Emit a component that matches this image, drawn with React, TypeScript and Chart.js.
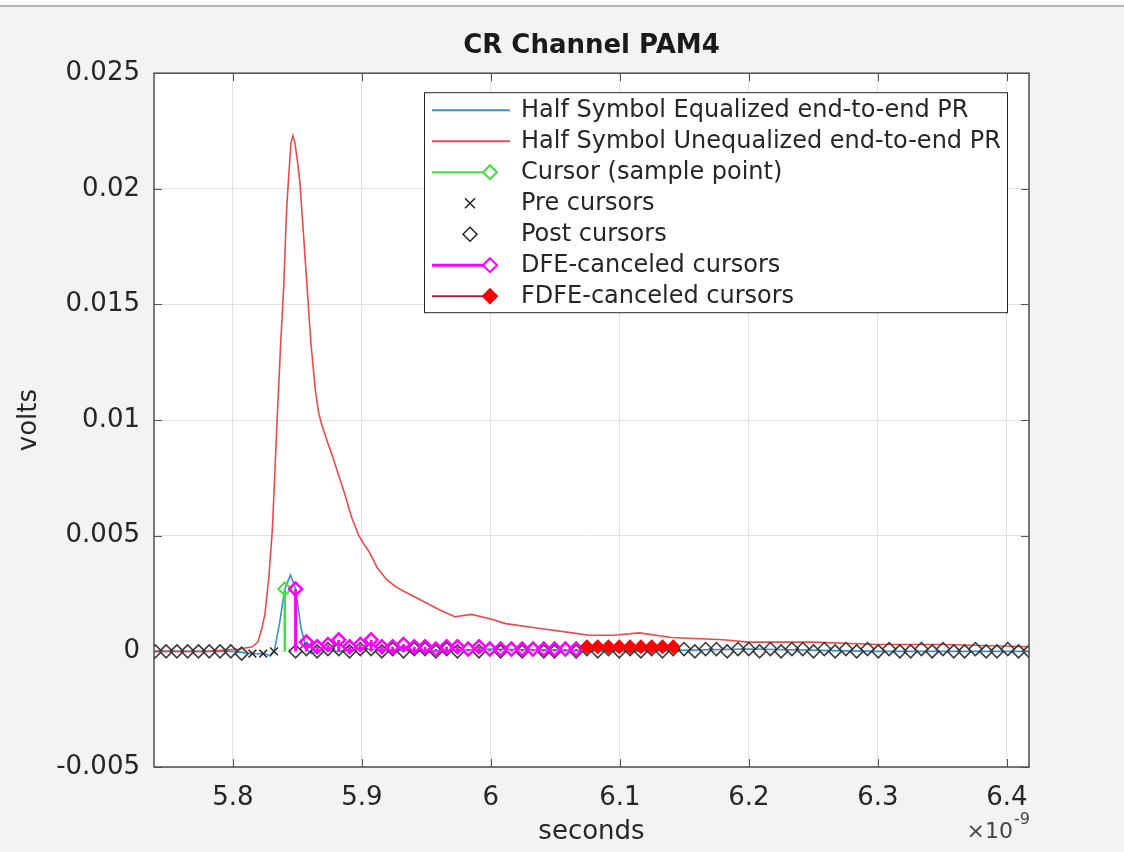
import React, { useEffect, useRef } from 'react';
import { Chart, registerables } from 'chart.js';

Chart.register(...registerables);

// ---------- data (time in units of 1e-9 s, values in volts) ----------
const X_MIN = 5.7388;
const X_MAX = 6.4172;
const Y_MIN = -0.005;
const Y_MAX = 0.025;

const xTicks = [5.8, 5.9, 6.0, 6.1, 6.2, 6.3, 6.4];
const xTickLabels = ['5.8', '5.9', '6', '6.1', '6.2', '6.3', '6.4'];
const yTicks = [-0.005, 0, 0.005, 0.01, 0.015, 0.02, 0.025];
const yTickLabels = ['-0.005', '0', '0.005', '0.01', '0.015', '0.02', '0.025'];

// Half Symbol Unequalized end-to-end PR (red)
const unequalizedTime = [
  5.7388, 5.78, 5.805, 5.815, 5.8193, 5.822, 5.8248, 5.828, 5.8306, 5.8341, 5.837, 5.8395,
  5.8415, 5.8433, 5.845, 5.8465, 5.848, 5.85, 5.8519, 5.8545, 5.8573, 5.8605, 5.8639, 5.8665,
  5.8689, 5.873, 5.8774, 5.882, 5.8867, 5.892, 5.8976, 5.902, 5.9057, 5.912, 5.9193, 5.926,
  5.9324, 5.943, 5.96, 5.972, 5.985, 6.0, 6.0115, 6.037, 6.063, 6.076, 6.095, 6.115, 6.14,
  6.18, 6.2, 6.25, 6.3, 6.35, 6.4172,
];
const unequalizedVolts = [
  0.0, 0.0, 0.0001, 0.0002, 0.0004, 0.0009, 0.0016, 0.0033, 0.0053, 0.0098, 0.0133, 0.0159,
  0.019, 0.0206, 0.022, 0.0223, 0.022, 0.0212, 0.0203, 0.0182, 0.0159, 0.0133, 0.0113, 0.0103,
  0.0098, 0.0091, 0.0084, 0.0076, 0.0068, 0.0058, 0.005, 0.0046, 0.0043, 0.0036, 0.0031, 0.0028,
  0.0026, 0.0023, 0.0018, 0.0015, 0.0016, 0.0014, 0.0012, 0.001, 0.0008, 0.0007, 0.0007, 0.0008,
  0.0006, 0.0005, 0.0004, 0.0004, 0.0003, 0.0003, 0.0002,
];

// Half Symbol Equalized end-to-end PR (blue)
const equalizedTime = [
  5.7388, 5.8, 5.815, 5.825, 5.829, 5.832, 5.8361, 5.8402, 5.8446, 5.8486, 5.8528, 5.857,
  5.861, 5.87, 5.88, 5.9, 5.95, 6.0, 6.1, 6.2, 6.3, 6.4172,
];
const equalizedVolts = [
  0.0, 0.0, -0.0001, -0.0001, -0.0002, 0.0, 0.0012, 0.0027, 0.0033, 0.0027, 0.001, 0.0001,
  -0.0001, 0.0001, 0.0, 0.0001, 0.0, 0.0001, 0.0, 0.0001, 0.0, 0.0,
];

// symbol-spaced samples
const CURSOR_TIME = 5.8402;
const SYMBOL_TIME = 0.008366;
const cursorVolts = 0.0027;
// samples k = -12 .. -4 (plotted with post-cursor marker)
const earlyVolts = [0.0, 0.0, 0.0, 0.0, 0.0, 0.0, 0.0, 0.0, -0.0001];
// k = -3 .. -1
const preCursorVolts = [-0.0001, -0.0001, 0.0];
// k = 1 .. 27
const dfeVolts = [
  0.0027, 0.0004, 0.0002, 0.0003, 0.0005, 0.0002, 0.0003, 0.0005, 0.0002, 0.0002, 0.0003,
  0.0002, 0.0002, 0.0001, 0.0002, 0.0002, 0.0001, 0.0002, 0.0001, 0.0001, 0.0001, 0.0001,
  0.0001, 0.0001, 0.0001, 0.0001, 0.0001,
];
// k = 28 .. 36
const fdfeVolts = [0.0002, 0.0002, 0.0002, 0.0002, 0.0002, 0.0002, 0.0002, 0.0002, 0.0002];
// k = 1 .. 69
const postCursorVolts = [
  0.0, 0.0001, 0.0, 0.0001, 0.0001, 0.0, 0.0001, 0.0001, 0.0, 0.0001,
  0.0, 0.0001, 0.0001, 0.0, 0.0001, 0.0, 0.0001, 0.0, 0.0001, 0.0,
  0.0001, 0.0, 0.0001, 0.0, 0.0, 0.0001, 0.0, 0.0001, 0.0, 0.0001,
  0.0, 0.0001, 0.0, 0.0001, 0.0, 0.0001, 0.0001, 0.0, 0.0001, 0.0001,
  0.0, 0.0001, 0.0001, 0.0, 0.0001, 0.0, 0.0001, 0.0001, 0.0, 0.0001,
  0.0, 0.0001, 0.0, 0.0001, 0.0, 0.0001, 0.0, 0.0, 0.0001, 0.0,
  0.0001, 0.0, 0.0, 0.0001, 0.0, 0.0, 0.0001, 0.0, 0.0,
];

const legendLabels = [
  'Half Symbol Equalized end-to-end PR',
  'Half Symbol Unequalized end-to-end PR',
  'Cursor (sample point)',
  'Pre cursors',
  'Post cursors',
  'DFE-canceled cursors',
  'FDFE-canceled cursors',
];

// ---------- styles ----------
const FONT = 'DejaVu Sans';
const C_BLUE = '#3a8fd3';
const C_RED = '#f04848';
const C_GREEN = '#3fe03f';
const C_MAGENTA = '#ff00ff';
const C_FDFE_LINE = '#a2203f';
const C_FDFE = '#ff0000';
const C_TEXT = '#262626';
const MARKER_R = 6.5;

const timeAt = (k: number) => CURSOR_TIME + k * SYMBOL_TIME;
const pts = (ts: number[], vs: number[]) => ts.map((t, i) => ({ x: t, y: vs[i] }));
const stems = (ts: number[], vs: number[]) => {
  const out: any[] = [];
  ts.forEach((t, i) => {
    out.push({ x: t, y: 0 }, { x: t, y: vs[i] }, { x: t, y: null });
  });
  return out;
};

const earlyTimes = earlyVolts.map((_, i) => timeAt(i - 12));
const preTimes = preCursorVolts.map((_, i) => timeAt(i - 3));
const dfeTimes = dfeVolts.map((_, i) => timeAt(i + 1));
const fdfeTimes = fdfeVolts.map((_, i) => timeAt(i + 28));
const postTimes = postCursorVolts.map((_, i) => timeAt(i + 1));

function diamond(ctx: CanvasRenderingContext2D, x: number, y: number, r: number) {
  ctx.beginPath();
  ctx.moveTo(x, y - r);
  ctx.lineTo(x + r, y);
  ctx.lineTo(x, y + r);
  ctx.lineTo(x - r, y);
  ctx.closePath();
}

const plotBgPlugin = {
  id: 'plotBg',
  beforeDraw(chart: any) {
    const { ctx, chartArea: a } = chart;
    ctx.save();
    ctx.fillStyle = '#ffffff';
    ctx.fillRect(a.left, a.top, a.right - a.left, a.bottom - a.top);
    ctx.restore();
  },
};

const framePlugin = {
  id: 'matlabFrame',
  afterDraw(chart: any) {
    const { ctx, chartArea: a, scales } = chart;
    ctx.save();
    // inward ticks
    ctx.strokeStyle = '#555';
    ctx.lineWidth = 1;
    const tl = 8;
    xTicks.forEach((v) => {
      const px = Math.round(scales.x.getPixelForValue(v)) + 0.5;
      ctx.beginPath();
      ctx.moveTo(px, a.bottom);
      ctx.lineTo(px, a.bottom - tl);
      ctx.moveTo(px, a.top);
      ctx.lineTo(px, a.top + tl);
      ctx.stroke();
    });
    yTicks.forEach((v) => {
      const py = Math.round(scales.y.getPixelForValue(v)) + 0.5;
      ctx.beginPath();
      ctx.moveTo(a.left, py);
      ctx.lineTo(a.left + tl, py);
      ctx.moveTo(a.right, py);
      ctx.lineTo(a.right - tl, py);
      ctx.stroke();
    });
    // box
    ctx.strokeStyle = '#4d4d4d';
    ctx.lineWidth = 1.5;
    ctx.strokeRect(a.left, a.top, a.right - a.left, a.bottom - a.top);

    // exponent label
    ctx.fillStyle = '#444';
    ctx.textBaseline = 'alphabetic';
    ctx.textAlign = 'right';
    ctx.font = `22px "${FONT}"`;
    ctx.fillText('\u00d710', a.right - 16, 838);
    ctx.textAlign = 'left';
    ctx.font = `16px "${FONT}"`;
    ctx.fillText('-9', a.right - 15, 824);

    // legend
    const L = a.left + 270;
    const T = a.top + 19;
    const W = 583;
    const H = 220;
    ctx.fillStyle = '#ffffff';
    ctx.fillRect(L, T, W, H);
    ctx.strokeStyle = '#262626';
    ctx.lineWidth = 1;
    ctx.strokeRect(L + 0.5, T + 0.5, W, H);
    ctx.font = `24px "${FONT}"`;
    ctx.textAlign = 'left';
    ctx.textBaseline = 'middle';
    legendLabels.forEach((label, i) => {
      const cy = T + 18 + i * 31;
      const x0 = L + 8;
      const x1 = L + 86;
      const mx = L + 66;
      const cx = L + 46;
      ctx.lineWidth = 2;
      if (i === 0 || i === 1) {
        ctx.strokeStyle = i === 0 ? C_BLUE : C_RED;
        ctx.beginPath();
        ctx.moveTo(x0, cy);
        ctx.lineTo(x1, cy);
        ctx.stroke();
      } else if (i === 2 || i === 5 || i === 6) {
        const lc = i === 2 ? C_GREEN : i === 5 ? C_MAGENTA : C_FDFE_LINE;
        const mc = i === 2 ? C_GREEN : i === 5 ? C_MAGENTA : C_FDFE;
        ctx.strokeStyle = lc;
        ctx.lineWidth = i === 5 ? 3 : 2;
        ctx.beginPath();
        ctx.moveTo(x0, cy);
        ctx.lineTo(mx, cy);
        ctx.stroke();
        ctx.strokeStyle = mc;
        ctx.lineWidth = 2;
        diamond(ctx, mx, cy, 7);
        ctx.fillStyle = i === 6 ? mc : '#fff';
        ctx.fill();
        ctx.stroke();
      } else if (i === 3) {
        ctx.strokeStyle = '#222';
        ctx.lineWidth = 1.5;
        ctx.beginPath();
        ctx.moveTo(cx - 5, cy - 5);
        ctx.lineTo(cx + 5, cy + 5);
        ctx.moveTo(cx + 5, cy - 5);
        ctx.lineTo(cx - 5, cy + 5);
        ctx.stroke();
      } else if (i === 4) {
        ctx.strokeStyle = '#222';
        ctx.lineWidth = 1.5;
        diamond(ctx, cx, cy, 7);
        ctx.stroke();
      }
      ctx.fillStyle = C_TEXT;
      ctx.fillText(label, L + 97, cy + 1);
    });
    ctx.restore();
  },
};

export default function App() {
  const ref = useRef<HTMLCanvasElement>(null);
  useEffect(() => {
    document.body.style.margin = '0';
    Chart.defaults.font.family = FONT;
    const tickFont = { family: FONT, size: 26 };
    const chart = new Chart(ref.current as HTMLCanvasElement, {
      type: 'scatter',
      data: {
        datasets: [
          {
            label: 'FDFE-canceled cursors',
            data: pts(fdfeTimes, fdfeVolts),
            showLine: false,
            pointStyle: 'rectRot',
            pointRadius: MARKER_R,
            pointBorderWidth: 1.5,
            pointBackgroundColor: C_FDFE,
            pointBorderColor: C_FDFE,
          },
          {
            label: 'FDFE stems',
            data: stems(fdfeTimes, fdfeVolts),
            showLine: true,
            spanGaps: false,
            borderColor: C_FDFE_LINE,
            borderWidth: 2,
            pointRadius: 0,
          },
          {
            label: 'DFE-canceled cursors',
            data: pts(dfeTimes, dfeVolts),
            showLine: false,
            pointStyle: 'rectRot',
            pointRadius: MARKER_R,
            pointBorderWidth: 2.5,
            pointBackgroundColor: 'rgba(255,255,255,0)',
            pointBorderColor: C_MAGENTA,
          },
          {
            label: 'DFE stems',
            data: stems(dfeTimes, dfeVolts),
            showLine: true,
            spanGaps: false,
            borderColor: C_MAGENTA,
            borderWidth: 3,
            pointRadius: 0,
          },
          {
            label: 'Post cursors',
            data: pts(earlyTimes, earlyVolts).concat(pts(postTimes, postCursorVolts)),
            showLine: false,
            pointStyle: 'rectRot',
            pointRadius: MARKER_R,
            pointBorderWidth: 1.6,
            pointBackgroundColor: 'rgba(255,255,255,0)',
            pointBorderColor: '#3a3a3a',
          },
          {
            label: 'Pre cursors',
            data: pts(preTimes, preCursorVolts),
            showLine: false,
            pointStyle: 'crossRot',
            pointRadius: 5.5,
            pointBorderWidth: 1.5,
            pointBorderColor: '#222',
          },
          {
            label: 'Cursor (sample point)',
            data: [{ x: CURSOR_TIME, y: cursorVolts }],
            showLine: false,
            pointStyle: 'rectRot',
            pointRadius: MARKER_R,
            pointBorderWidth: 2,
            pointBackgroundColor: 'rgba(255,255,255,0)',
            pointBorderColor: C_GREEN,
          },
          {
            label: 'Cursor stem',
            data: stems([CURSOR_TIME], [cursorVolts]),
            showLine: true,
            spanGaps: false,
            borderColor: C_GREEN,
            borderWidth: 2.5,
            pointRadius: 0,
          },
          {
            label: 'Half Symbol Unequalized end-to-end PR',
            data: pts(unequalizedTime, unequalizedVolts),
            showLine: true,
            borderColor: C_RED,
            borderWidth: 1.6,
            pointRadius: 0,
            tension: 0,
          },
          {
            label: 'Half Symbol Equalized end-to-end PR',
            data: pts(equalizedTime, equalizedVolts),
            showLine: true,
            borderColor: C_BLUE,
            borderWidth: 1.6,
            pointRadius: 0,
            tension: 0,
          },
        ],
      },
      options: {
        animation: false,
        responsive: false,
        devicePixelRatio: 1,
        events: [],
        layout: { padding: { left: 0, right: 95, top: 0, bottom: 0 } },
        plugins: {
          legend: { display: false },
          tooltip: { enabled: false },
          title: {
            display: true,
            fullSize: false,
            text: 'CR Channel PAM4',
            color: '#1a1a1a',
            font: { family: FONT, size: 26, weight: 'bold' },
            padding: { top: 31, bottom: 11 },
          },
        },
        scales: {
          x: {
            type: 'linear',
            min: X_MIN,
            max: X_MAX,
            afterBuildTicks: (s: any) => {
              s.ticks = xTicks.map((v) => ({ value: v }));
            },
            afterFit: (s: any) => {
              s.height = 85;
            },
            ticks: {
              callback: (_v: any, i: number) => xTickLabels[i],
              font: tickFont,
              color: C_TEXT,
              padding: 16,
              maxRotation: 0,
              autoSkip: false,
            },
            grid: { color: '#e2e2e2', lineWidth: 1, drawTicks: false },
            border: { display: false },
            title: {
              display: true,
              text: 'seconds',
              color: C_TEXT,
              font: { family: FONT, size: 26 },
              padding: { top: 0, bottom: 4 },
            },
          },
          y: {
            type: 'linear',
            min: Y_MIN,
            max: Y_MAX,
            afterBuildTicks: (s: any) => {
              s.ticks = yTicks.map((v) => ({ value: v }));
            },
            afterFit: (s: any) => {
              s.width = 154;
            },
            ticks: {
              callback: (_v: any, i: number) => yTickLabels[i],
              font: tickFont,
              color: C_TEXT,
              padding: 14,
              autoSkip: false,
            },
            grid: { color: '#e2e2e2', lineWidth: 1, drawTicks: false },
            border: { display: false },
            title: {
              display: true,
              text: 'volts',
              color: C_TEXT,
              font: { family: FONT, size: 26 },
              padding: { top: 14, bottom: 0 },
            },
          },
        },
      },
      plugins: [plotBgPlugin, framePlugin],
    } as any);
    return () => chart.destroy();
  }, []);

  return (
    <div style={{ position: 'relative', width: 1124, height: 852, background: '#f3f3f3', overflow: 'hidden' }}>
      <div style={{ position: 'absolute', left: 0, top: 0, width: 1124, height: 5, background: '#fafafa' }} />
      <div style={{ position: 'absolute', left: 0, top: 5, width: 1124, height: 2, background: '#b4b4b4' }} />
      <canvas ref={ref} width={1124} height={852} style={{ display: 'block' }} />
    </div>
  );
}
